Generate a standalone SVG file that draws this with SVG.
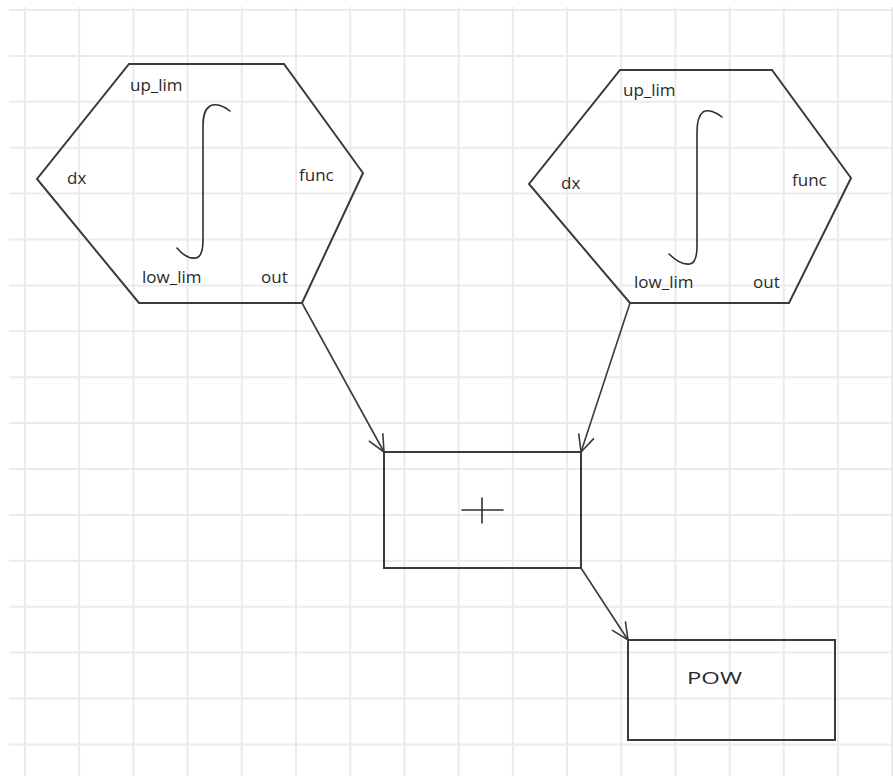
<svg xmlns="http://www.w3.org/2000/svg" width="893" height="776" viewBox="0 0 893 776">
<defs>
<style>
.grid line{stroke:#ebebeb;stroke-width:2}
.shape{fill:none;stroke:#3a3a3a;stroke-width:2;stroke-linejoin:miter}
.conn{fill:none;stroke:#3a3a3a;stroke-width:1.6}
.sym{fill:none;stroke:#2e2e2e;stroke-width:1.6;stroke-linecap:round}
text{font-family:"Open Sans","DejaVu Sans",sans-serif;font-size:17px;fill:#2a2a2a}
</style>
<marker id="arr" viewBox="0 0 20 20" refX="18" refY="10" markerWidth="20" markerHeight="20" markerUnits="userSpaceOnUse" orient="auto">
<path d="M1,2 L18,10 L1,18" fill="none" stroke="#3a3a3a" stroke-width="1.6"/>
</marker>
</defs>
<rect width="893" height="776" fill="#ffffff"/>
<g class="grid">
<line x1="25" y1="7" x2="25" y2="776"/>
<line x1="79.2" y1="7" x2="79.2" y2="776"/>
<line x1="133.4" y1="7" x2="133.4" y2="776"/>
<line x1="187.6" y1="7" x2="187.6" y2="776"/>
<line x1="241.8" y1="7" x2="241.8" y2="776"/>
<line x1="296" y1="7" x2="296" y2="776"/>
<line x1="350.2" y1="7" x2="350.2" y2="776"/>
<line x1="404.4" y1="7" x2="404.4" y2="776"/>
<line x1="458.6" y1="7" x2="458.6" y2="776"/>
<line x1="512.8" y1="7" x2="512.8" y2="776"/>
<line x1="567" y1="7" x2="567" y2="776"/>
<line x1="621.2" y1="7" x2="621.2" y2="776"/>
<line x1="675.4" y1="7" x2="675.4" y2="776"/>
<line x1="729.6" y1="7" x2="729.6" y2="776"/>
<line x1="783.8" y1="7" x2="783.8" y2="776"/>
<line x1="838" y1="7" x2="838" y2="776"/>
<line x1="892" y1="7" x2="892" y2="776"/>
<line x1="9" y1="10" x2="893" y2="10"/>
<line x1="9" y1="55.9" x2="893" y2="55.9"/>
<line x1="9" y1="101.8" x2="893" y2="101.8"/>
<line x1="9" y1="147.7" x2="893" y2="147.7"/>
<line x1="9" y1="193.6" x2="893" y2="193.6"/>
<line x1="9" y1="239.5" x2="893" y2="239.5"/>
<line x1="9" y1="285.4" x2="893" y2="285.4"/>
<line x1="9" y1="331.3" x2="893" y2="331.3"/>
<line x1="9" y1="377.2" x2="893" y2="377.2"/>
<line x1="9" y1="423.1" x2="893" y2="423.1"/>
<line x1="9" y1="469" x2="893" y2="469"/>
<line x1="9" y1="514.9" x2="893" y2="514.9"/>
<line x1="9" y1="560.8" x2="893" y2="560.8"/>
<line x1="9" y1="606.7" x2="893" y2="606.7"/>
<line x1="9" y1="652.6" x2="893" y2="652.6"/>
<line x1="9" y1="698.5" x2="893" y2="698.5"/>
<line x1="9" y1="744.4" x2="893" y2="744.4"/>
</g>
<g id="integral1">
<polygon class="shape" points="129,64 284,64 363,173 302,303 139,303 37,179"/>
<path class="sym" d="M230,111 C224,106 216,103 210,106 C204,110 203,117 203,126 L203,240 C203,250 201,257 196,258 C189,259 182,254 177,248"/>
<text x="130" y="91">up_lim</text>
<text x="67" y="184">dx</text>
<text x="299" y="181">func</text>
<text x="142" y="283">low_lim</text>
<text x="261" y="283">out</text>
</g>
<g id="integral2">
<polygon class="shape" points="620,70 772,70 851,178 789,303 630,303 529,184"/>
<path class="sym" d="M722,117 C716,112 708,109 703,112 C698,116 697,123 697,132 L697,246 C697,256 695,263 690,264 C683,265 675,260 669,254"/>
<text x="623" y="96">up_lim</text>
<text x="561" y="189">dx</text>
<text x="792" y="186">func</text>
<text x="634" y="288">low_lim</text>
<text x="753" y="288">out</text>
</g>
<g id="sum">
<rect class="shape" x="384" y="452" width="197" height="116"/>
<line class="sym" x1="462" y1="510" x2="503" y2="510"/>
<line class="sym" x1="482" y1="498" x2="482" y2="523"/>
</g>
<g id="pow">
<rect class="shape" x="628" y="640" width="207" height="100"/>
<text x="687" y="684" font-size="20" textLength="55" lengthAdjust="spacingAndGlyphs">POW</text>
</g>
<g id="connectors">
<line class="conn" x1="302" y1="303" x2="384" y2="452" marker-end="url(#arr)"/>
<line class="conn" x1="630" y1="303" x2="581" y2="452" marker-end="url(#arr)"/>
<line class="conn" x1="581" y1="568" x2="628" y2="640" marker-end="url(#arr)"/>
</g>
</svg>
